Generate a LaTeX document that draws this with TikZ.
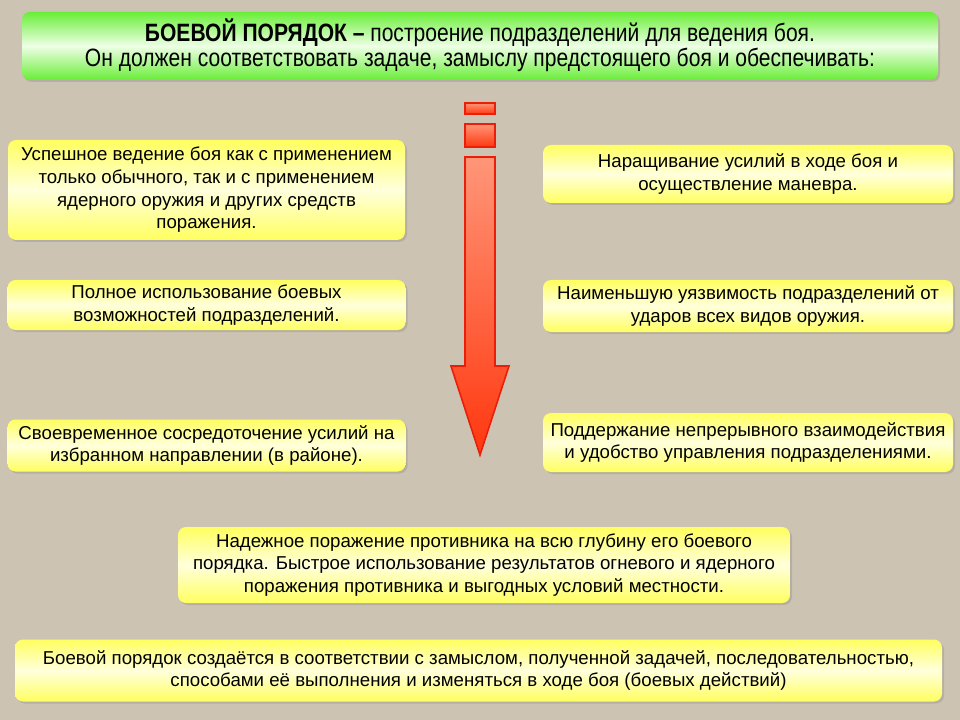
\documentclass[tikz,border=0pt]{standalone}
\usepackage{fontspec}
\setmainfont{Liberation Sans}
\newfontfamily\narrowfont[FakeStretch=0.84]{Liberation Sans}
\usetikzlibrary{shadows}
\definecolor{bg}{RGB}{204,195,178}
\definecolor{yel}{RGB}{255,255,95}
\definecolor{yellight}{RGB}{255,255,220}
\definecolor{grn}{RGB}{105,238,55}
\definecolor{grnlight}{RGB}{238,255,230}
\definecolor{arrtop}{RGB}{255,150,120}
\definecolor{arrbot}{RGB}{255,55,15}
\definecolor{arrline}{RGB}{235,30,10}
\def\P#1{#1*0.75pt}
\tikzset{
  shade/.style={drop shadow={opacity=0.3,shadow xshift=1.5pt,shadow yshift=-1.5pt}},
  ybox/.style={rounded corners=6pt, top color=yel, bottom color=yel, middle color=yellight,
    shade, align=center, inner sep=0pt, font=\fontsize{14}{17}\selectfont},
  gbox/.style={rounded corners=6pt, top color=grn, bottom color=grn, middle color=grnlight,
    shade},
  gtext/.style={font=\narrowfont\fontsize{18.8}{19}\selectfont, align=center, inner sep=0pt},
  redpart/.style={top color=arrtop, bottom color=arrbot, draw=arrline, line width=1.2pt, line join=miter}
}
\begin{document}
\begin{tikzpicture}[x=0.75pt,y=-0.75pt]
\useasboundingbox (0,0) rectangle (960,720);
\fill[bg] (0,0) rectangle (960,720);

\path[gbox] (22,12) rectangle (938,80);
\node[gtext] (title) at (480,45.5)
  {\textbf{БОЕВОЙ ПОРЯДОК –} построение подразделений для ведения боя.\\
   Он должен соответствовать задаче, замыслу предстоящего боя и обеспечивать:};

\node[ybox, minimum width={\P{397}}, minimum height={\P{100}}] (l1) at (206.5,190)
  {Успешное ведение боя как с применением\\ только обычного, так и с применением\\ ядерного оружия и других средств\\ поражения.};
\node[ybox, minimum width={\P{410}}, minimum height={\P{58}}] (r1) at (748,174)
  {Наращивание усилий в ходе боя и\\ осуществление маневра.};
\node[ybox, minimum width={\P{398}}, minimum height={\P{50}}] (l2) at (206.5,305)
  {Полное использование боевых\\ возможностей подразделений.};
\node[ybox, minimum width={\P{410}}, minimum height={\P{52}}] (r2) at (748,306)
  {Наименьшую уязвимость подразделений от\\ ударов всех видов оружия.};
\node[ybox, minimum width={\P{398}}, minimum height={\P{52}}] (l3) at (206.5,445.5)
  {Своевременное сосредоточение усилий на\\ избранном направлении (в районе).};
\node[ybox, minimum width={\P{410}}, minimum height={\P{59}}] (r3) at (748,442.5)
  {Поддержание непрерывного взаимодействия\\ и удобство управления подразделениями.};
\node[ybox, minimum width={\P{612}}, minimum height={\P{76}}] (b1) at (484,565)
  {Надежное поражение противника на всю глубину его боевого\\ порядка. Быстрое использование результатов огневого и ядерного\\ поражения противника и выгодных условий местности.};
\node[ybox, minimum width={\P{927}}, minimum height={\P{62}}] (b2) at (478.5,670.5)
  {Боевой порядок создаётся в соответствии с замыслом, полученной задачей, последовательностью,\\ способами её выполнения и изменяться в ходе боя (боевых действий)};

% arrow
\path[redpart] (465,103) rectangle (495,114);
\path[redpart] (465,124) rectangle (495,147);
\path[redpart] (465,157) -- (495,157) -- (495,366) -- (509,366) -- (480,455)
  -- (451,366) -- (465,366) -- cycle;
\end{tikzpicture}
\end{document}
